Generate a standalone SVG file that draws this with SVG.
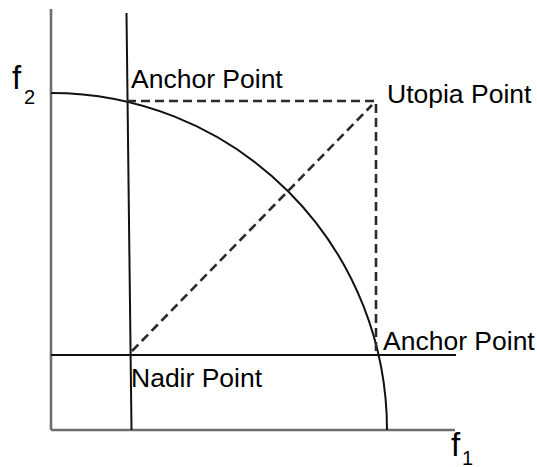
<svg xmlns="http://www.w3.org/2000/svg" width="537" height="467" viewBox="0 0 537 467">
<style>
.axis{stroke:#6e6e6e;stroke-width:2.6;fill:none}
.line{stroke:#111;stroke-width:2;fill:none}
.dash{stroke:#2a2a2a;stroke-width:2.6;fill:none;stroke-dasharray:9 5}
.lbl{font-family:"Liberation Sans",Arial,sans-serif;font-size:26.5px;fill:#000}
.ax{font-family:"Liberation Sans",Arial,sans-serif;font-size:33px;fill:#000}
.sub{font-family:"Liberation Sans",Arial,sans-serif;font-size:20px;fill:#000}
</style>
<rect width="537" height="467" fill="#fff"/>
<g id="connectors">
  <line class="axis" x1="51" y1="9" x2="51" y2="430"/>
  <line class="axis" x1="51" y1="430" x2="455" y2="430"/>
  <line class="line" x1="126.5" y1="13" x2="131.5" y2="430"/>
  <line class="line" x1="51" y1="355" x2="456" y2="355"/>
  <path class="line" d="M51,93 A336,337 0 0 1 387,430"/>
  <path class="dash" d="M127,101 H376 V352"/>
  <line class="dash" x1="132" y1="351" x2="372" y2="105"/>
</g>
<g id="axis-f2"><text class="ax" x="12" y="89">f</text><text class="sub" x="24" y="104">2</text></g>
<g id="axis-f1"><text class="ax" x="451" y="456">f</text><text class="sub" x="462" y="465">1</text></g>
<g id="anchor-top"><text class="lbl" x="131" y="88">Anchor Point</text></g>
<g id="utopia"><text class="lbl" x="387" y="103">Utopia Point</text></g>
<g id="nadir"><text class="lbl" x="131" y="387">Nadir Point</text></g>
<g id="anchor-right"><text class="lbl" x="383" y="350">Anchor Point</text></g>
</svg>
